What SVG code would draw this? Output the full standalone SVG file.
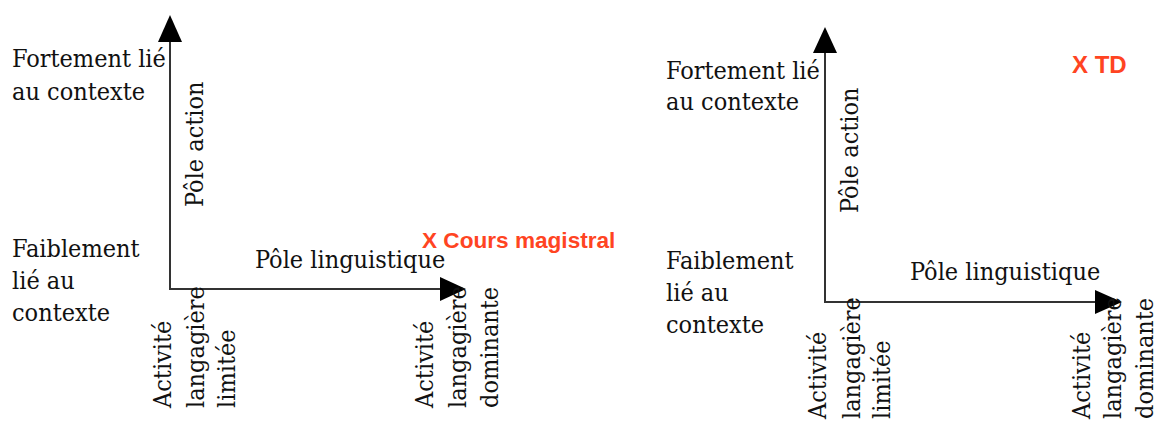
<svg xmlns="http://www.w3.org/2000/svg" width="1159" height="423" viewBox="0 0 1159 423">
<style>
.t{font-family:'DejaVu Serif Condensed','DejaVu Serif',serif;font-stretch:condensed;font-size:25px;fill:#111}
.r{font-family:'Liberation Sans',Arial,sans-serif;font-weight:bold;font-size:22.6px;fill:#ff4422}
.td{font-size:24px}
.ax{stroke:#333;stroke-width:2;fill:none}
.ah{fill:#000}
</style>
<rect width="1159" height="423" fill="#fff"/>
<g id="connectors">
<path class="ax" d="M170,40 V289 H442"/>
<polygon class="ah" points="170,15 158,42 182,42"/>
<polygon class="ah" points="466,289 440,277 440,301"/>
<path class="ax" d="M825,51 V302 H1097"/>
<polygon class="ah" points="825,27 813,53 837,53"/>
<polygon class="ah" points="1122,302 1095,290 1095,314"/>
</g>
<g id="left-strong"><text class="t" x="12" y="67">Fortement lié</text><text class="t" x="12" y="100">au contexte</text></g>
<g id="left-weak"><text class="t" x="12" y="257">Faiblement</text><text class="t" x="12" y="289">lié au</text><text class="t" x="12" y="321">contexte</text></g>
<g id="left-action"><text class="t" transform="translate(203,207) rotate(-90)">Pôle action</text></g>
<g id="left-ling"><text class="t" x="255" y="268">Pôle linguistique</text></g>
<g id="left-cm"><text class="r" x="422" y="248">X Cours magistral</text></g>
<g id="left-limited"><text class="t" transform="translate(171,408) rotate(-90)">Activité</text><text class="t" transform="translate(204,408) rotate(-90)">langagière</text><text class="t" transform="translate(235,408) rotate(-90)">limitée</text></g>
<g id="left-dominant"><text class="t" transform="translate(433,408) rotate(-90)">Activité</text><text class="t" transform="translate(466,408) rotate(-90)">langagière</text><text class="t" transform="translate(498,408) rotate(-90)">dominante</text></g>
<g id="right-strong"><text class="t" x="666" y="79">Fortement lié</text><text class="t" x="666" y="110">au contexte</text></g>
<g id="right-weak"><text class="t" x="666" y="269">Faiblement</text><text class="t" x="666" y="301">lié au</text><text class="t" x="666" y="333">contexte</text></g>
<g id="right-action"><text class="t" transform="translate(858,213) rotate(-90)">Pôle action</text></g>
<g id="right-ling"><text class="t" x="910" y="280">Pôle linguistique</text></g>
<g id="right-td"><text class="r td" x="1072" y="73">X TD</text></g>
<g id="right-limited"><text class="t" transform="translate(826,419) rotate(-90)">Activité</text><text class="t" transform="translate(860,419) rotate(-90)">langagière</text><text class="t" transform="translate(890,419) rotate(-90)">limitée</text></g>
<g id="right-dominant"><text class="t" transform="translate(1090,419) rotate(-90)">Activité</text><text class="t" transform="translate(1121,419) rotate(-90)">langagière</text><text class="t" transform="translate(1153,419) rotate(-90)">dominante</text></g>
</svg>
